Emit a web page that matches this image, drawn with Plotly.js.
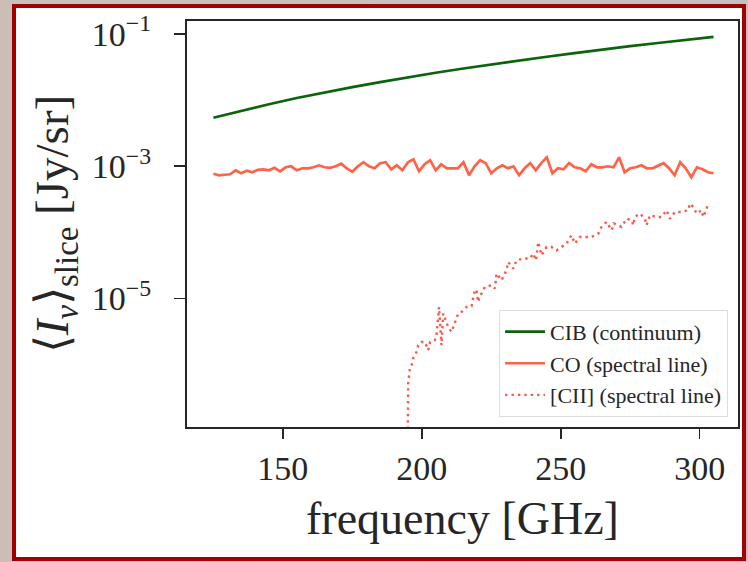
<!DOCTYPE html>
<html>
<head>
<meta charset="utf-8">
<script src="https://cdn.plot.ly/plotly-3.0.1.min.js"></script>
<style>
  html, body { margin:0; padding:0; }
  body { width:748px; height:562px; overflow:hidden; position:relative;
         background: linear-gradient(90deg, #cdbdb4 0px, #c8c1bc 14px, #c4c2c1 60%, #c2c2c2 100%); }
  #frame { position:absolute; left:12px; top:4px; width:726px; height:549px;
           border:4px solid #a30000; background:#ffffff; }
  #chart { position:absolute; left:0; top:0; width:748px; height:562px; }
</style>
</head>
<body>
<div id="frame"></div>
<div id="chart"></div>
<script>
// ---- data ----
const cibFreq = [125,135,145,155,165,175,185,195,205,215,225,235,245,255,265,275,285,295,305];
const cibValues = [5.4e-3,6.9e-3,8.6e-3,1.07e-2,1.30e-2,1.56e-2,1.86e-2,2.2e-2,2.58e-2,2.99e-2,
                   3.45e-2,3.96e-2,4.5e-2,5.1e-2,5.8e-2,6.5e-2,7.25e-2,8.1e-2,9.0e-2];

const coFreq = [125,127,129,131,133,135,137,139,141,143,145,147,149,151,153,155,157,159,161,163,
                165,167,169,171,173,175,177,179,181,183,185,187,189,191,193,195,197,199,201,203,
                205,207,209,211,213,215,217,219,221,223,225,227,229,231,233,235,237,239,241,243,
                245,247,249,251,253,255,257,259,261,263,265,267,269,271,273,275,277,279,281,283,
                285,287,289,291,293,295,297,299,301,303,305];
const coValues = [7.68e-4,7.29e-4,7.42e-4,7.55e-4,8.67e-4,7.81e-4,8.52e-4,8.09e-4,8.82e-4,8.97e-4,
                  8.67e-4,9.45e-4,8.37e-4,9.62e-4,9.96e-4,8.67e-4,9.29e-4,9.29e-4,9.62e-4,1.03e-3,
                  9.62e-4,9.45e-4,9.96e-4,1.09e-3,9.29e-4,8.23e-4,9.96e-4,1.145e-3,9.96e-4,9.29e-4,
                  1.11e-3,1.145e-3,8.97e-4,1.03e-3,8.67e-4,1.145e-3,1.27e-3,8.37e-4,1.07e-3,1.23e-3,
                  8.67e-4,1.07e-3,9.29e-4,9.29e-4,9.29e-4,1.145e-3,7.29e-4,9.96e-4,1.23e-3,1.11e-3,
                  7.81e-4,9.29e-4,1.03e-3,9.29e-4,9.96e-4,7.29e-4,9.29e-4,1.11e-3,8.67e-4,1.11e-3,
                  1.36e-3,7.81e-4,9.29e-4,8.97e-4,1.11e-3,9.62e-4,9.29e-4,8.37e-4,1.07e-3,9.62e-4,
                  9.62e-4,9.96e-4,9.62e-4,1.36e-3,8.09e-4,9.29e-4,9.62e-4,1.03e-3,9.29e-4,9.29e-4,
                  1.03e-3,1.11e-3,9.29e-4,7.29e-4,1.145e-3,9.29e-4,6.8e-4,9.62e-4,8.97e-4,8.09e-4,7.81e-4];

const ciiFreq = [194.6,195.1,195.7,196.3,197.0,198.1,198.7,199.9,201.1,202.3,203.0,204.7,205.3,205.9,206.2,
                 206.6,207.1,207.7,208.5,209.5,210.7,211.9,213.1,214.3,216.1,217.9,218.5,219.1,219.7,220.3,
                 220.9,221.5,222.7,225.1,226.3,226.9,228.7,230.5,231.1,232.9,234.1,236.5,238.9,240.1,241.1,
                 241.9,243.1,244.9,246.7,248.5,250.3,252.1,253.9,255.1,256.9,258.7,261.1,263.5,264.7,266.5,
                 268.3,269.1,271.9,273.7,275.5,276.1,276.7,278.5,280.3,280.9,282.1,284.5,286.3,288.1,289.3,
                 291.1,293.5,295.9,296.5,297.7,298.9,300.7,301.3,302.5,303.1];
const ciiValues = [1e-9,5.25e-7,8.85e-7,9.8e-7,1.29e-6,1.56e-6,1.97e-6,2.21e-6,2.21e-6,1.66e-6,2.21e-6,2.34e-6,2.79e-6,4.7e-6,7.46e-6,
                   4.24e-6,1.97e-6,5.93e-6,4.7e-6,3.72e-6,3.13e-6,4.43e-6,5.93e-6,6.28e-6,7.46e-6,7.66e-6,1.03e-5,1.37e-5,1.33e-5,8.9e-6,
                   1.12e-5,1.19e-5,1.5e-5,1.59e-5,1.42e-5,2.39e-5,1.89e-5,2.68e-5,3.57e-5,2.84e-5,3.79e-5,4.02e-5,4.02e-5,4.79e-5,3.79e-5,
                   7.16e-5,4.51e-5,6.01e-5,6.01e-5,5.37e-5,6.01e-5,6.78e-5,9.04e-5,6.78e-5,8.53e-5,8.53e-5,8.53e-5,9.6e-5,1.21e-4,1.44e-4,
                   1.08e-4,1.37e-4,1.21e-4,1.61e-4,1.52e-4,1.28e-4,1.71e-4,1.92e-4,1.61e-4,1.28e-4,1.81e-4,1.71e-4,1.71e-4,2.16e-4,1.61e-4,
                   2.03e-4,2.03e-4,2.16e-4,2.72e-4,2.42e-4,1.92e-4,2.16e-4,1.71e-4,2.29e-4,2.78e-4];

const seriesNames = ['CIB (continuum)', 'CO (spectral line)', '[CII] (spectral line)'];
const xTickVals = [150, 200, 250, 300];
const xTickText = ['150', '200', '250', '300'];
const yTickVals = [1e-1, 1e-3, 1e-5];
const yTickText = ['10<sup>\u22121</sup>', '10<sup>\u22123</sup>', '10<sup>\u22125</sup>'];

const serif = 'Liberation Serif';
const ink = '#262626';

const traces = [
  { x: cibFreq, y: cibValues, name: seriesNames[0], type: 'scatter', mode: 'lines',
    line: { color: '#0b640b', width: 2.7 } },
  { x: coFreq, y: coValues, name: seriesNames[1], type: 'scatter', mode: 'lines',
    line: { color: '#ff6347', width: 2.7 } },
  { x: ciiFreq, y: ciiValues, name: seriesNames[2], type: 'scatter', mode: 'lines',
    line: { color: '#f75a48', width: 2.4, dash: '2.4px,4px' } }
];

const layout = {
  width: 748, height: 562,
  font: { family: serif, color: ink, size: 22 },
  paper_bgcolor: 'rgba(0,0,0,0)',
  plot_bgcolor: '#ffffff',
  margin: { l: 187, r: 10, t: 21, b: 135, pad: 0 },
  showlegend: true,
  legend: {
    x: 0.982, xanchor: 'right', y: 0.025, yanchor: 'bottom',
    bgcolor: 'rgba(255,255,255,0.85)', bordercolor: '#dddddd', borderwidth: 1,
    font: { family: serif, size: 22, color: ink },
    itemwidth: 40,
    tracegroupgap: 0
  },
  xaxis: {
    range: [115.5, 313.8], autorange: false,
    tickmode: 'array', tickvals: xTickVals, ticktext: xTickText,
    ticks: 'outside', ticklen: 10, tickwidth: 1.6, tickcolor: ink,
    showline: true, linewidth: 2, linecolor: ink, mirror: true,
    showgrid: false, zeroline: false,
    tickfont: { family: serif, size: 34, color: ink },
    ticklabelstandoff: 0,
    title: { text: 'frequency [GHz]', font: { family: serif, size: 46, color: ink }, standoff: 16 }
  },
  yaxis: {
    type: 'log', range: [-6.94, -0.807], autorange: false,
    tickmode: 'array', tickvals: yTickVals, ticktext: yTickText,
    ticks: 'outside', ticklen: 11, tickwidth: 1.6, tickcolor: ink,
    showline: true, linewidth: 2, linecolor: ink, mirror: true,
    showgrid: false, zeroline: false,
    tickfont: { family: serif, size: 34, color: ink },
    ticklabelstandoff: 16,
    title: { text: '\u27e8<i>I</i><sub><i>\u03bd</i></sub>\u27e9<sub>slice</sub> [Jy/sr]',
             font: { family: serif, size: 47, color: ink }, standoff: 8 }
  }
};

Plotly.newPlot('chart', traces, layout, { displayModeBar: false, staticPlot: true });
</script>
</body>
</html>
